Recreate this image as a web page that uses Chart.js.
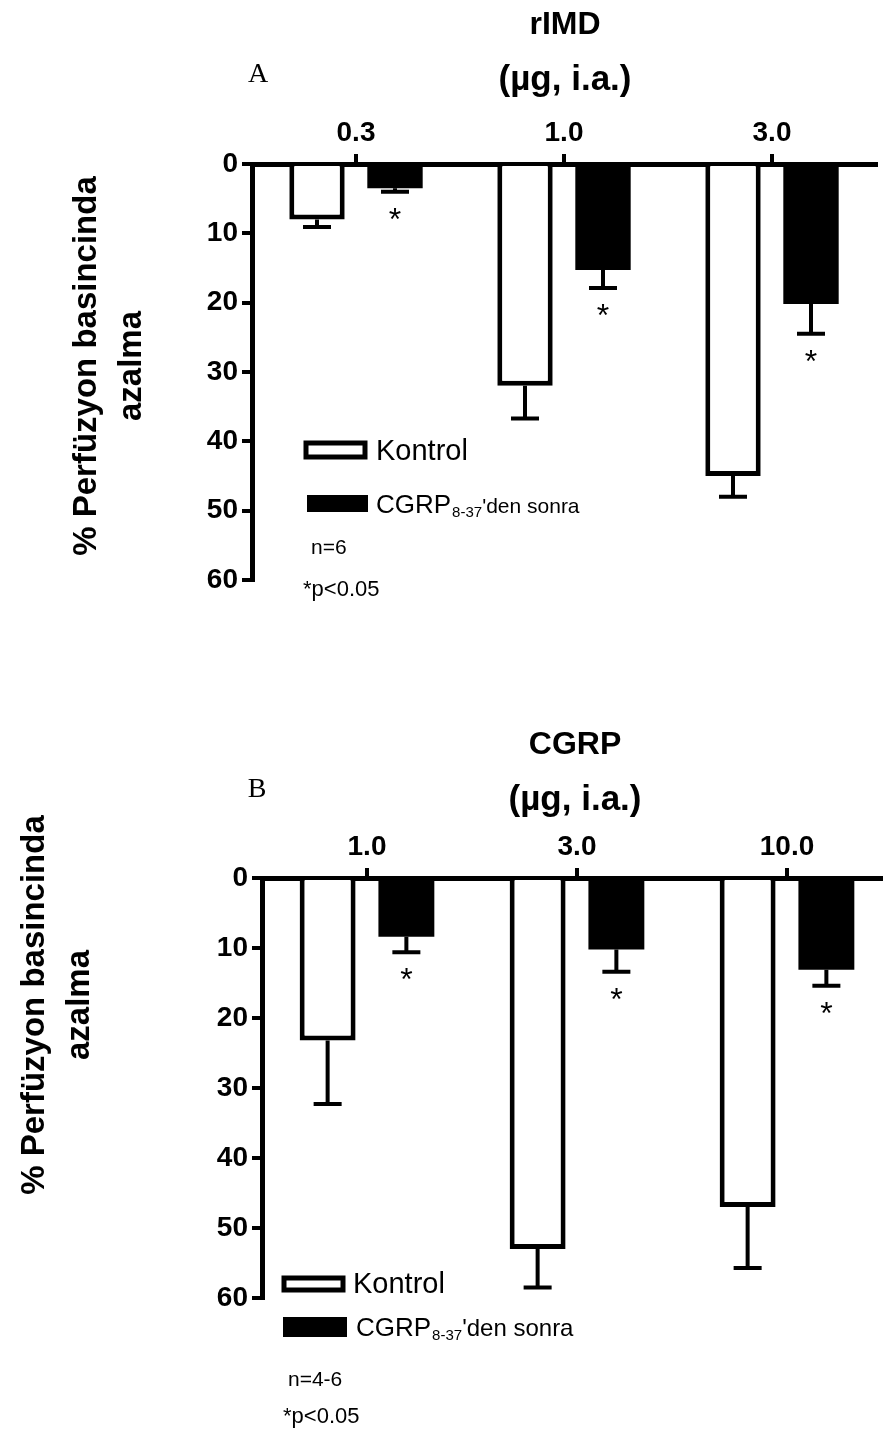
<!DOCTYPE html>
<html>
<head>
<meta charset="utf-8">
<script src="https://cdn.jsdelivr.net/npm/chart.js@4"></script>
<style>
  body { margin: 0; background: #fff; overflow: hidden; width: 883px; height: 1446px; position: relative; }
  canvas { position: absolute; left: 0; }
  #chartA { top: 0; }
  #chartB { top: 715px; }
</style>
</head>
<body>
<canvas id="chartA" width="883" height="700"></canvas>
<canvas id="chartB" width="900" height="731"></canvas>
<script>
// panel A - rIMD doses
const dosesA = ['0.3', '1.0', '3.0'];
const kontrolA = [8, 32, 45];
const kontrolErrA = [1.1, 4.7, 3.0];
const cgrpA = [3.5, 15.3, 20.2];
const cgrpErrA = [0.5, 2.6, 4.3];

// panel B - CGRP doses
const dosesB = ['1.0', '3.0', '10.0'];
const kontrolB = [23.2, 53, 47];
const kontrolErrB = [9.1, 5.5, 8.7];
const cgrpB = [8.4, 10.2, 13.1];
const cgrpErrB = [2.2, 3.2, 2.3];

const yTicks = [0, 10, 20, 30, 40, 50, 60];

const SANS = '"Liberation Sans", Arial, sans-serif';

// error bars, asterisks, titles and the hand placed legend
const annot = {
  id: 'annot',
  afterDatasetsDraw(chart, args, o) {
    const ctx = chart.ctx;
    const y = chart.scales.y;
    ctx.save();
    ctx.strokeStyle = '#000';
    ctx.fillStyle = '#000';
    ctx.lineWidth = 4;
    chart.data.datasets.forEach((ds, di) => {
      chart.getDatasetMeta(di).data.forEach((bar, i) => {
        const top = y.getPixelForValue(ds.data[i]);
        const end = y.getPixelForValue(ds.data[i] + ds.err[i]);
        ctx.beginPath();
        ctx.moveTo(bar.x, top);
        ctx.lineTo(bar.x, end);
        ctx.moveTo(bar.x - 14, end);
        ctx.lineTo(bar.x + 14, end);
        ctx.stroke();
        if (ds.sig) {
          ctx.font = '32px ' + SANS;
          ctx.textAlign = 'center';
          ctx.textBaseline = 'alphabetic';
          ctx.fillText('*', bar.x, end + 38);
        }
      });
    });

    // titles above the axis
    ctx.textAlign = 'center';
    ctx.textBaseline = 'middle';
    ctx.font = 'bold 32px ' + SANS;
    ctx.fillText(o.title, o.titleX, o.titleY);
    ctx.font = 'bold 35px ' + SANS;
    ctx.fillText('(\u00b5g, i.a.)', o.titleX, o.titleY + 55);
    ctx.font = '28px "Liberation Serif", "Times New Roman", serif';
    ctx.fillText(o.letter, o.letterX, o.letterY);

    // y axis title, rotated
    ctx.save();
    ctx.translate(o.yTitleX, o.yTitleY);
    ctx.rotate(-Math.PI / 2);
    ctx.font = 'bold 33px ' + SANS;
    ctx.fillText('% Perf\u00fczyon basincinda', 0, 0);
    ctx.fillText('azalma', 0, 45);
    ctx.restore();

    // legend
    const lg = o.legend;
    ctx.lineWidth = 5;
    ctx.strokeRect(lg.b1[0], lg.b1[1], lg.b1[2], lg.b1[3]);
    ctx.fillRect(lg.b2[0], lg.b2[1], lg.b2[2], lg.b2[3]);
    ctx.textAlign = 'left';
    ctx.textBaseline = 'alphabetic';
    ctx.font = '29px ' + SANS;
    ctx.fillText(chart.data.datasets[0].label, lg.t1[0], lg.t1[1]);
    let tx = lg.t2[0];
    ctx.font = '26px ' + SANS;
    ctx.fillText('CGRP', tx, lg.t2[1]);
    tx += ctx.measureText('CGRP').width + 1;
    ctx.font = '15px ' + SANS;
    ctx.fillText('8-37', tx, lg.t2[1] + 4);
    tx += ctx.measureText('8-37').width;
    ctx.font = lg.denSize + 'px ' + SANS;
    ctx.fillText("'den sonra", tx, lg.t2[1]);

    ctx.textBaseline = 'middle';
    ctx.font = '21px ' + SANS;
    ctx.fillText(o.n[0], o.n[1], o.n[2]);
    ctx.font = '22px ' + SANS;
    ctx.fillText('*p<0.05', o.p[0], o.p[1]);
    ctx.restore();
  }
};

function makeChart(id, doses, kon, konErr, cg, cgErr, pad, extra) {
  return new Chart(document.getElementById(id), {
    type: 'bar',
    data: {
      labels: doses,
      datasets: [
        { label: 'Kontrol', data: kon, err: konErr, backgroundColor: '#fff',
          borderColor: '#000', borderWidth: 5 },
        { label: "CGRP8-37'den sonra", data: cg, err: cgErr, sig: true, backgroundColor: '#000',
          borderWidth: 0 }
      ]
    },
    options: {
      responsive: false,
      animation: false,
      categoryPercentage: 0.75,
      barPercentage: 0.71,
      layout: { padding: pad },
      plugins: { legend: { display: false }, tooltip: { enabled: false }, annot: extra },
      scales: {
        x: {
          position: 'top',
          afterFit: s => { s.height = 50; },
          grid: { offset: false, drawOnChartArea: false, color: '#000', lineWidth: 4, tickLength: 10 },
          border: { color: '#000', width: 5 },
          ticks: { color: '#000', padding: 4, font: { family: SANS, size: 28, weight: 'bold' } }
        },
        y: {
          reverse: true,
          min: 0,
          max: 60,
          afterFit: s => { s.width = 70; },
          afterBuildTicks: s => { s.ticks = yTicks.map(v => ({ value: v })); },
          grid: { drawOnChartArea: false, color: '#000', lineWidth: 4, tickLength: 10 },
          border: { color: '#000', width: 5 },
          ticks: { color: '#000', padding: 4, font: { family: SANS, size: 28, weight: 'bold' } }
        }
      }
    },
    plugins: [annot]
  });
}

makeChart('chartA', dosesA, kontrolA, kontrolErrA, cgrpA, cgrpErrA,
  { left: 182, top: 114, right: 7, bottom: 120 },
  {
    title: 'rIMD', titleX: 565, titleY: 25, letter: 'A', letterX: 258, letterY: 75,
    yTitleX: 87, yTitleY: 366,
    legend: { b1: [306, 443, 59, 14], t1: [376, 460], b2: [307, 495, 61, 17], t2: [376, 513], denSize: 21 },
    n: ['n=6', 311, 548], p: [303, 590]
  });

makeChart('chartB', dosesB, kontrolB, kontrolErrB, cgrpB, cgrpErrB,
  { left: 192, top: 113, right: 8, bottom: 148 },
  {
    title: 'CGRP', titleX: 575, titleY: 30, letter: 'B', letterX: 257, letterY: 75,
    yTitleX: 35, yTitleY: 290,
    legend: { b1: [284, 563, 59, 12], t1: [353, 578], b2: [283, 602, 64, 20], t2: [356, 621], denSize: 24 },
    n: ['n=4-6', 288, 665], p: [283, 702]
  });
</script>
</body>
</html>
